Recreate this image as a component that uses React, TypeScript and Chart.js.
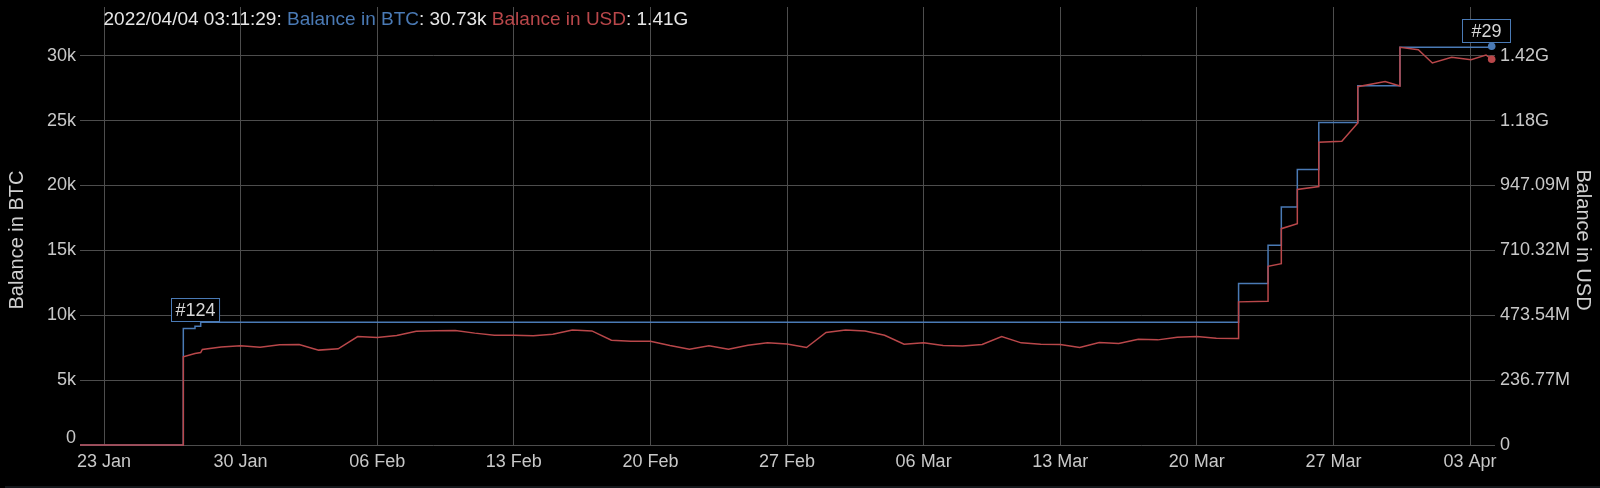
import React, { useEffect, useRef } from 'react';
import { Chart, registerables } from 'chart.js';

Chart.register(...registerables);

const FONT = '"Liberation Sans", Arial, Helvetica, sans-serif';
const BLUE = '#4a7ab5';
const RED = '#b9474a';
const GRID = '#4d4d4d';
const TICK = '#c8c8c8';
const HEAD = '#e6e6e6';

// x values are days counted from 23 Jan 2022 00:00
const X_MIN = -1.23;
const X_MAX = 71.28;
const xTickDays = [0, 7, 14, 21, 28, 35, 42, 49, 56, 63, 70];
const xTickLabels = ['23 Jan', '30 Jan', '06 Feb', '13 Feb', '20 Feb', '27 Feb', '06 Mar', '13 Mar', '20 Mar', '27 Mar', '03 Apr'];

const Y_MAX = 33750;
const btcTicks = [0, 5000, 10000, 15000, 20000, 25000, 30000];
const btcTickLabels = ['0', '5k', '10k', '15k', '20k', '25k', '30k'];
const USD_PER_BTC_AXIS = 47354.4;
const usdTickLabels = ['0', '236.77M', '473.54M', '710.32M', '947.09M', '1.18G', '1.42G'];

// Balance in BTC (stepped)
const blueDays = [-1.23, 4.064, 4.663, 4.955, 58.14, 59.65, 60.33, 61.15, 62.25, 64.25, 66.41, 70.82, 71.11];
const blueBtc = [0, 8970, 9150, 9460, 12450, 15385, 18330, 21230, 24850, 27690, 30640, 30640, 30730];

// Balance in USD (millions)
const redDays = [
  -1.23, 4.064, 4.064, 4.66, 4.955, 5.04,
  6, 7, 8, 9, 10, 11, 12, 13, 14, 15,
  16, 17, 18, 19, 20, 21, 22, 23, 24, 25,
  26, 27, 28, 29, 30, 31, 32, 33, 34, 35,
  36, 37, 38, 39, 40, 41, 42, 43, 44, 45,
  46, 47, 48, 49, 50, 51, 52, 53, 54, 55,
  56, 57, 58.05,
  58.14, 58.14, 59.65, 59.65, 60.33, 60.33, 61.15, 61.15, 62.25, 62.25, 63.43,
  64.25, 64.25, 65.65, 66.41, 66.41, 67.35, 68.07, 69.06, 70.05, 70.82, 71.11,
];
const redUsdM = [
  0, 0, 321.5, 333.8, 337.2, 348.5,
  358.0, 361.8, 357.1, 365.6, 366.5, 346.2, 350.9, 395.9, 392.1, 399.7,
  415.3, 417.2, 417.7, 408.2, 400.6, 400.6, 398.7, 404.4, 420.0, 416.2,
  382.6, 378.8, 378.8, 363.2, 349.5, 361.8, 349.5, 364.2, 372.7, 368.9,
  355.6, 410.6, 420.0, 416.2, 400.6, 367.9, 372.7, 363.2, 360.8, 366.5,
  395.9, 372.7, 367.9, 366.5, 355.6, 374.1, 370.3, 385.9, 383.6, 393.5,
  395.9, 389.7, 388.8,
  388.8, 522.3, 524.7, 652.1, 661.5, 789.4, 807.4, 932.4, 943.3, 1104.8, 1108.6,
  1175.3, 1307.5, 1325.9, 1310.3, 1450.9, 1442.4, 1394.1, 1414.5, 1406.0, 1423.0, 1407.4,
];

const headerParts: [string, string][] = [
  ['2022/04/04 03:11:29: ', HEAD],
  ['Balance in BTC', BLUE],
  [': 30.73k ', HEAD],
  ['Balance in USD', RED],
  [': 1.41G', HEAD],
];

const annoIndex = [2, 11];
const annoText = ['#124', '#29'];

const zeroPad = (s: any) => {
  s.paddingTop = 0;
  s.paddingBottom = 0;
  s.paddingLeft = 0;
  s.paddingRight = 0;
};

const overlayPlugin = {
  id: 'overlay',
  afterDraw(chart: any) {
    const ctx: CanvasRenderingContext2D = chart.ctx;
    const xs = chart.scales.x;
    const ys = chart.scales.y;
    ctx.save();

    // header
    ctx.font = `19px ${FONT}`;
    ctx.textBaseline = 'alphabetic';
    ctx.textAlign = 'left';
    let hx = 103.5;
    for (const [t, c] of headerParts) {
      ctx.fillStyle = c;
      ctx.fillText(t, hx, 24.5);
      hx += ctx.measureText(t).width;
    }

    // left "0" label (lifted above the axis)
    ctx.font = `18px ${FONT}`;
    ctx.fillStyle = TICK;
    ctx.textAlign = 'right';
    ctx.textBaseline = 'middle';
    ctx.fillText(btcTickLabels[0], 76, ys.getPixelForValue(0) - 7);

    // axis titles
    ctx.font = `20px ${FONT}`;
    ctx.fillStyle = '#d0d0d0';
    ctx.textAlign = 'center';
    ctx.textBaseline = 'middle';
    ctx.save();
    ctx.translate(17, 240);
    ctx.rotate(-Math.PI / 2);
    ctx.fillText('Balance in BTC', 0, 0);
    ctx.restore();
    ctx.save();
    ctx.translate(1583, 240);
    ctx.rotate(Math.PI / 2);
    ctx.fillText('Balance in USD', 0, 0);
    ctx.restore();

    // annotations
    ctx.font = `18px ${FONT}`;
    annoIndex.forEach((idx, k) => {
      const px = xs.getPixelForValue(blueDays[idx]);
      const py = ys.getPixelForValue(blueBtc[idx]);
      const tw = ctx.measureText(annoText[k]).width;
      const w = Math.max(tw + 8, 48);
      const h = 23;
      const left = Math.round(px - w / 2) + 0.5;
      const bottom = Math.round(py - 5.5) + 0.5;
      ctx.fillStyle = '#000';
      ctx.fillRect(left, bottom - h, w, h);
      ctx.strokeStyle = BLUE;
      ctx.lineWidth = 1;
      ctx.strokeRect(left, bottom - h, w, h);
      ctx.fillStyle = '#d8d8d8';
      ctx.textAlign = 'center';
      ctx.textBaseline = 'middle';
      ctx.fillText(annoText[k], left + w / 2, bottom - h / 2 + 1);
    });

    ctx.restore();
  },
};

export default function App() {
  const ref = useRef<HTMLCanvasElement>(null);
  useEffect(() => {
    Chart.defaults.font.family = FONT;
    const lastBlue = blueDays.length - 1;
    const lastRed = redDays.length - 1;
    const chart = new Chart(ref.current as HTMLCanvasElement, {
      type: 'line',
      data: {
        datasets: [
          {
            label: 'Balance in USD',
            data: redDays.map((d, i) => ({ x: d, y: redUsdM[i] * 1e6 })),
            yAxisID: 'y1',
            borderColor: RED,
            backgroundColor: RED,
            borderWidth: 1.5,
            tension: 0,
            fill: false,
            clip: false as any,
            pointRadius: (c: any) => (c.dataIndex === lastRed ? 3.8 : 0),
            pointBorderWidth: 0,
            pointHoverRadius: 0,
            pointBackgroundColor: RED,
          },
          {
            label: 'Balance in BTC',
            data: blueDays.map((d, i) => ({ x: d, y: blueBtc[i] })),
            yAxisID: 'y',
            borderColor: BLUE,
            backgroundColor: BLUE,
            borderWidth: 1.5,
            stepped: 'before',
            fill: false,
            clip: false as any,
            pointRadius: (c: any) => (c.dataIndex === lastBlue ? 3.8 : 0),
            pointBorderWidth: 0,
            pointHoverRadius: 0,
            pointBackgroundColor: BLUE,
          },
        ],
      },
      options: {
        animation: false,
        responsive: false,
        devicePixelRatio: 1,
        layout: { padding: { top: 7, left: 0, right: 0, bottom: 0 } },
        plugins: {
          legend: { display: false },
          tooltip: { enabled: false },
          title: { display: false },
        },
        scales: {
          x: {
            type: 'linear',
            min: X_MIN,
            max: X_MAX,
            grid: { color: GRID, lineWidth: 1, drawTicks: false },
            border: { display: false },
            afterBuildTicks: (s: any) => {
              s.ticks = xTickDays.map((v) => ({ value: v }));
            },
            afterFit: (s: any) => {
              s.height = 43;
              zeroPad(s);
            },
            ticks: {
              autoSkip: false,
              maxRotation: 0,
              padding: 6,
              color: TICK,
              font: { size: 18, family: FONT },
              callback: (_v: any, i: number) => xTickLabels[i],
            },
          },
          y: {
            position: 'left',
            min: 0,
            max: Y_MAX,
            grid: { color: GRID, lineWidth: 1, drawTicks: false },
            border: { display: false },
            afterBuildTicks: (s: any) => {
              s.ticks = btcTicks.map((v) => ({ value: v }));
            },
            afterFit: (s: any) => {
              s.width = 80;
              zeroPad(s);
            },
            ticks: {
              padding: 4,
              color: TICK,
              font: { size: 18, family: FONT },
              callback: (_v: any, i: number) => (i === 0 ? '' : btcTickLabels[i]),
            },
          },
          y1: {
            position: 'right',
            min: 0,
            max: Y_MAX * USD_PER_BTC_AXIS,
            grid: { display: false, drawTicks: false },
            border: { display: false },
            afterBuildTicks: (s: any) => {
              s.ticks = btcTicks.map((v) => ({ value: v * USD_PER_BTC_AXIS }));
            },
            afterFit: (s: any) => {
              s.width = 105;
              zeroPad(s);
            },
            ticks: {
              padding: 5,
              color: TICK,
              font: { size: 18, family: FONT },
              callback: (_v: any, i: number) => usdTickLabels[i],
            },
          },
        },
      } as any,
      plugins: [overlayPlugin],
    } as any);
    return () => chart.destroy();
  }, []);

  return (
    <div
      style={{
        position: 'absolute',
        left: 0,
        top: 0,
        width: 1600,
        height: 488,
        background: '#000',
        overflow: 'hidden',
      }}
    >
      <canvas ref={ref} width={1600} height={488} style={{ display: 'block', width: 1600, height: 488 }} />
      <div style={{ position: 'absolute', left: 5, top: 486, width: 1595, height: 2, background: '#14181c' }} />
    </div>
  );
}
